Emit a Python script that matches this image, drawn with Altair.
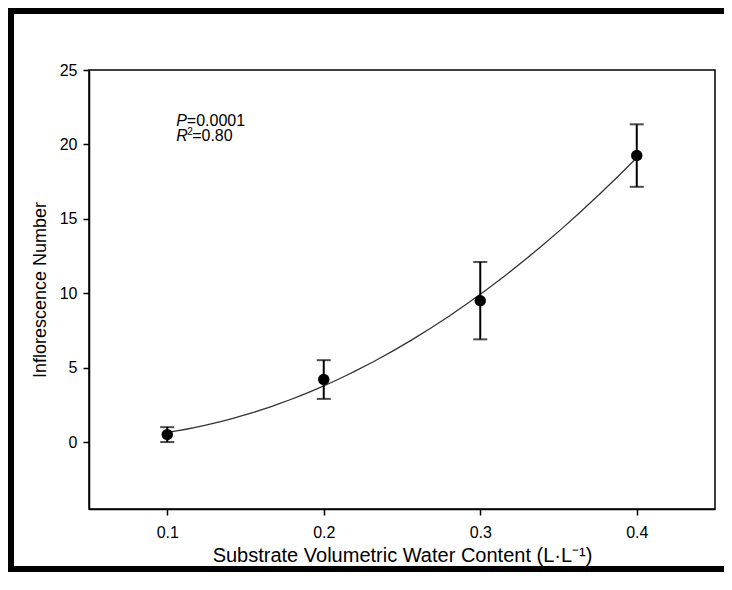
import altair as alt
import pandas as pd

# Data
water_content = [0.1, 0.2, 0.3, 0.4]
inflorescence = [0.5, 4.2, 9.5, 19.25]
sem = [0.5, 1.3, 2.6, 2.1]

df = pd.DataFrame({"x": water_content, "y": inflorescence, "e": sem})
df["lo"] = df["y"] - df["e"]
df["hi"] = df["y"] + df["e"]

FONT = "Liberation Sans, Arial, sans-serif"

xscale = alt.Scale(domain=[0.05, 0.45], nice=False, zero=False)
yscale = alt.Scale(domain=[-4.5, 25], nice=False, zero=False)

base = alt.Chart(df)

xaxis = alt.Axis(
    values=[0.1, 0.2, 0.3, 0.4], format=".1f", grid=False,
    title="Substrate Volumetric Water Content (L\u00b7L\u207b\u00b9)",
    titleFontSize=20, titleFontWeight="normal", titleFont=FONT, titleColor="black",
    titlePadding=5,
    labelFontSize=16, labelFont=FONT, labelColor="black", labelPadding=9,
    tickSize=6, tickWidth=1.5, tickColor="black",
    domainColor="black", domainWidth=1.5,
)
yaxis = alt.Axis(
    values=[0, 5, 10, 15, 20, 25], grid=False,
    title="Inflorescence Number",
    titleFontSize=18, titleFontWeight="normal", titleFont=FONT, titleColor="black",
    titlePadding=10,
    labelFontSize=16, labelFont=FONT, labelColor="black", labelPadding=6,
    tickSize=6, tickWidth=1.5, tickColor="black",
    domainColor="black", domainWidth=1.5,
)

curve = base.transform_regression(
    "x", "y", method="poly", order=2, extent=[0.1, 0.4]
).mark_line(color="#333333", strokeWidth=1.3).encode(
    x=alt.X("x:Q", scale=xscale, axis=xaxis),
    y=alt.Y("y:Q", scale=yscale, axis=yaxis),
)

bars = base.mark_rule(color="black", strokeWidth=2).encode(
    x=alt.X("x:Q", scale=xscale),
    y=alt.Y("lo:Q", scale=yscale),
    y2="hi:Q",
)
caps_lo = base.mark_tick(color="black", thickness=2, size=14, orient="horizontal").encode(
    x=alt.X("x:Q", scale=xscale),
    y=alt.Y("lo:Q", scale=yscale),
)
caps_hi = base.mark_tick(color="black", thickness=2, size=14, orient="horizontal").encode(
    x=alt.X("x:Q", scale=xscale),
    y=alt.Y("hi:Q", scale=yscale),
)
points = base.mark_circle(color="black", opacity=1, size=130).encode(
    x=alt.X("x:Q", scale=xscale),
    y=alt.Y("y:Q", scale=yscale),
)

one = alt.Data(values=[{"a": 1}])

def txt(s, xd, yd, size=16, style="normal", dx=0, dy=0):
    return alt.Chart(one).mark_text(
        text=s, font=FONT, fontSize=size, fontStyle=style, align="left",
        baseline="alphabetic", color="black", dx=dx, dy=dy,
    ).encode(x=alt.datum(xd, scale=xscale), y=alt.datum(yd, scale=yscale))

ann = [
    txt("P", 0.1057, 21.27, style="italic"),
    txt("=0.0001", 0.1057, 21.27, dx=10.7),
    txt("R", 0.1057, 20.2, style="italic"),
    txt("2", 0.1057, 20.2, size=10, dx=11.2, dy=-6.5),
    txt("=0.80", 0.1057, 20.2, dx=16),
]

# outer picture frame: left, top and bottom sides only, ending at the drawing's edge
frame = [
    alt.Chart(one).mark_rule(color="black", strokeWidth=6).encode(
        x=alt.value(-78), y=alt.value(-62), y2=alt.value(502)),
    alt.Chart(one).mark_rule(color="black", strokeWidth=6).encode(
        x=alt.value(-81), x2=alt.value(635), y=alt.value(-59)),
    alt.Chart(one).mark_rule(color="black", strokeWidth=6).encode(
        x=alt.value(-81), x2=alt.value(635), y=alt.value(499)),
]

chart = alt.layer(curve, bars, caps_lo, caps_hi, points, *ann, *frame).properties(
    width=626, height=439,
    autosize=alt.AutoSizeParams(type="none"),
    padding={"left": 81, "top": 62, "right": 9, "bottom": 63},
    background="white",
).configure_view(stroke="black", strokeWidth=1.5)

chart.save("out.html", embed_options={"renderer": "svg", "actions": False})
